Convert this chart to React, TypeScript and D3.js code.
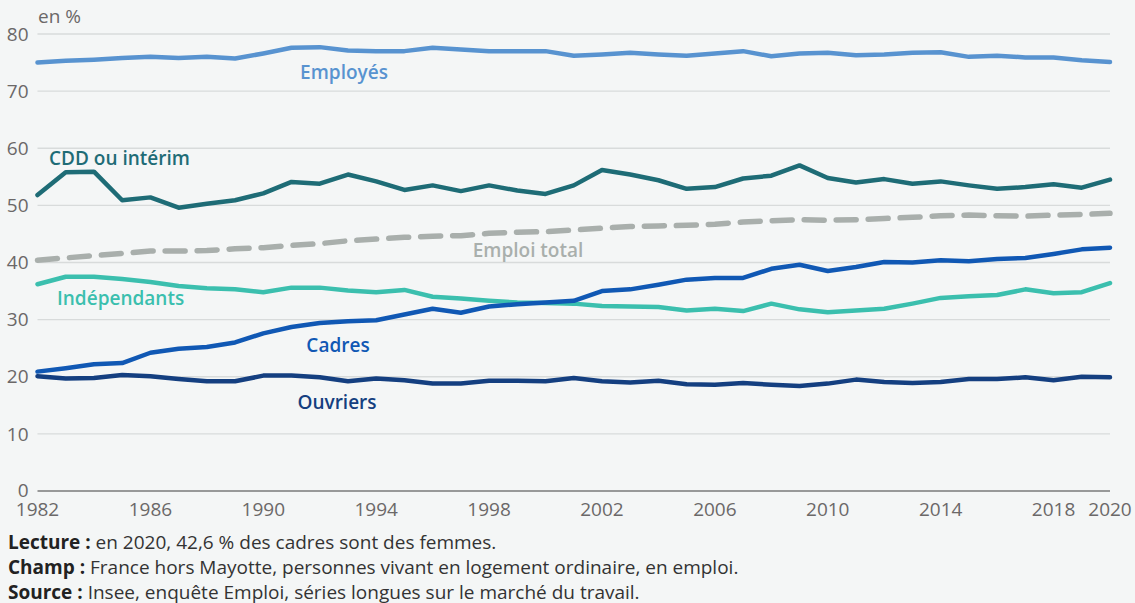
import React, { useEffect } from "react";
import * as d3 from "d3";

const years: number[] = d3.range(1982, 2021);

const employes = [75.0, 75.3, 75.5, 75.8, 76.0, 75.8, 76.0, 75.7, 76.6, 77.6, 77.7, 77.1, 77.0, 77.0, 77.6, 77.3, 77.0, 77.0, 77.0, 76.2, 76.4, 76.7, 76.4, 76.2, 76.6, 77.0, 76.1, 76.6, 76.7, 76.3, 76.4, 76.7, 76.8, 76.0, 76.2, 75.9, 75.9, 75.4, 75.1];
const cdd = [51.8, 55.8, 55.9, 50.9, 51.4, 49.6, 50.3, 50.9, 52.1, 54.1, 53.8, 55.4, 54.2, 52.7, 53.5, 52.5, 53.5, 52.6, 52.0, 53.5, 56.2, 55.4, 54.4, 52.9, 53.2, 54.7, 55.2, 57.0, 54.8, 54.0, 54.6, 53.8, 54.2, 53.5, 52.9, 53.2, 53.7, 53.1, 54.5];
const emploiTotal = [40.4, 40.8, 41.2, 41.6, 42.0, 42.0, 42.1, 42.4, 42.6, 43.0, 43.3, 43.8, 44.1, 44.4, 44.6, 44.7, 45.1, 45.3, 45.4, 45.7, 46.0, 46.3, 46.4, 46.5, 46.7, 47.1, 47.3, 47.5, 47.4, 47.5, 47.7, 47.9, 48.2, 48.3, 48.2, 48.1, 48.3, 48.4, 48.6];
const independants = [36.2, 37.5, 37.5, 37.1, 36.6, 35.9, 35.5, 35.3, 34.8, 35.6, 35.6, 35.1, 34.8, 35.2, 34.0, 33.7, 33.3, 33.0, 32.9, 32.8, 32.4, 32.3, 32.2, 31.6, 31.9, 31.5, 32.8, 31.8, 31.3, 31.6, 31.9, 32.8, 33.8, 34.1, 34.3, 35.3, 34.6, 34.8, 36.4];
const cadres = [20.9, 21.5, 22.2, 22.4, 24.2, 24.9, 25.2, 26.0, 27.6, 28.7, 29.4, 29.7, 29.9, 30.9, 31.9, 31.2, 32.3, 32.7, 33.0, 33.3, 35.0, 35.3, 36.1, 37.0, 37.3, 37.3, 38.9, 39.6, 38.5, 39.2, 40.1, 40.0, 40.4, 40.2, 40.6, 40.8, 41.5, 42.3, 42.6];
const ouvriers = [20.1, 19.7, 19.8, 20.3, 20.1, 19.6, 19.2, 19.2, 20.2, 20.2, 19.9, 19.2, 19.7, 19.4, 18.8, 18.8, 19.3, 19.3, 19.2, 19.8, 19.2, 19.0, 19.3, 18.7, 18.6, 18.9, 18.6, 18.4, 18.8, 19.5, 19.1, 18.9, 19.1, 19.6, 19.6, 19.9, 19.4, 20.0, 19.9];

const yTicks = [0, 10, 20, 30, 40, 50, 60, 70, 80];
const xTicks = [1982, 1986, 1990, 1994, 1998, 2002, 2006, 2010, 2014, 2018, 2020];

const seriesNames = ["Emploi total", "Employés", "CDD ou intérim", "Indépendants", "Ouvriers", "Cadres"];
const seriesValues = [emploiTotal, employes, cdd, independants, ouvriers, cadres];
const seriesColors = ["#a9afac", "#5893d0", "#1e6c76", "#3bbfae", "#143f80", "#1058b4"];
const seriesDashed = [true, false, false, false, false, false];

// label placement [x, y, anchor]
const labelPos: [number, number, string][] = [
  [528, 257, "middle"],
  [344, 79, "middle"],
  [49, 165, "start"],
  [57, 305, "start"],
  [337, 409, "middle"],
  [338, 352, "middle"],
];

const footer = [
  ["Lecture :", " en 2020, 42,6 % des cadres sont des femmes."],
  ["Champ :", " France hors Mayotte, personnes vivant en logement ordinaire, en emploi."],
  ["Source :", " Insee, enquête Emploi, séries longues sur le marché du travail."],
];

const W = 1135;
const H = 603;
const font = "'Open Sans', 'Noto Sans', sans-serif";

export default function App() {
  useEffect(() => {
    document.body.style.margin = "0";
    document.body.style.background = "#f4f6f6";
  }, []);

  const x = d3.scaleLinear().domain([1982, 2020]).range([37.5, 1110]);
  const y = d3.scaleLinear().domain([0, 80]).range([491, 34]);
  const line = d3
    .line<number>()
    .x((_, i) => x(years[i]))
    .y((d) => y(d))
    .curve(d3.curveLinear);

  return (
    <svg width={W} height={H} style={{ display: "block", fontFamily: font }}>
      <rect width={W} height={H} fill="#f4f6f6" />
      {yTicks.map((t) => (
        <g key={t}>
          {t > 0 && (
            <line x1={x(1982)} x2={x(2020)} y1={y(t)} y2={y(t)} stroke="#d8dbdb" strokeWidth={1.3} />
          )}
          <text x={28.5} y={t === 0 ? y(t) - 1 : y(t)} dy="0.35em" textAnchor="end" fontSize={19} fill="#6b6868">
            {t}
          </text>
        </g>
      ))}
      <line x1={x(1982)} x2={x(2020)} y1={y(0)} y2={y(0)} stroke="#7a7a7a" strokeWidth={1.5} />
      <text x={38} y={23} fontSize={19} fill="#6b6868">en %</text>
      {xTicks.map((t) => (
        <text key={t} x={x(t)} y={516} textAnchor="middle" fontSize={19} fill="#6b6868">
          {t}
        </text>
      ))}
      {seriesValues.map((vals, i) => (
        <path
          key={seriesNames[i]}
          d={line(vals) || ""}
          fill="none"
          stroke={seriesColors[i]}
          strokeWidth={seriesDashed[i] ? 5.5 : 4.5}
          strokeLinejoin="round"
          strokeLinecap="round"
          strokeDasharray={seriesDashed[i] ? "20 12" : undefined}
        />
      ))}
      {seriesNames.map((n, i) => (
        <text
          key={n}
          x={labelPos[i][0]}
          y={labelPos[i][1]}
          textAnchor={labelPos[i][2] as any}
          fontSize={19}
          fontWeight={600}
          fill={seriesColors[i]}
        >
          {n}
        </text>
      ))}
      {footer.map((f, i) => (
        <text key={i} x={8} y={549 + i * 25} fontSize={19} fill="#333">
          <tspan fontWeight={700} fill="#222">{f[0]}</tspan>
          <tspan>{f[1]}</tspan>
        </text>
      ))}
    </svg>
  );
}
